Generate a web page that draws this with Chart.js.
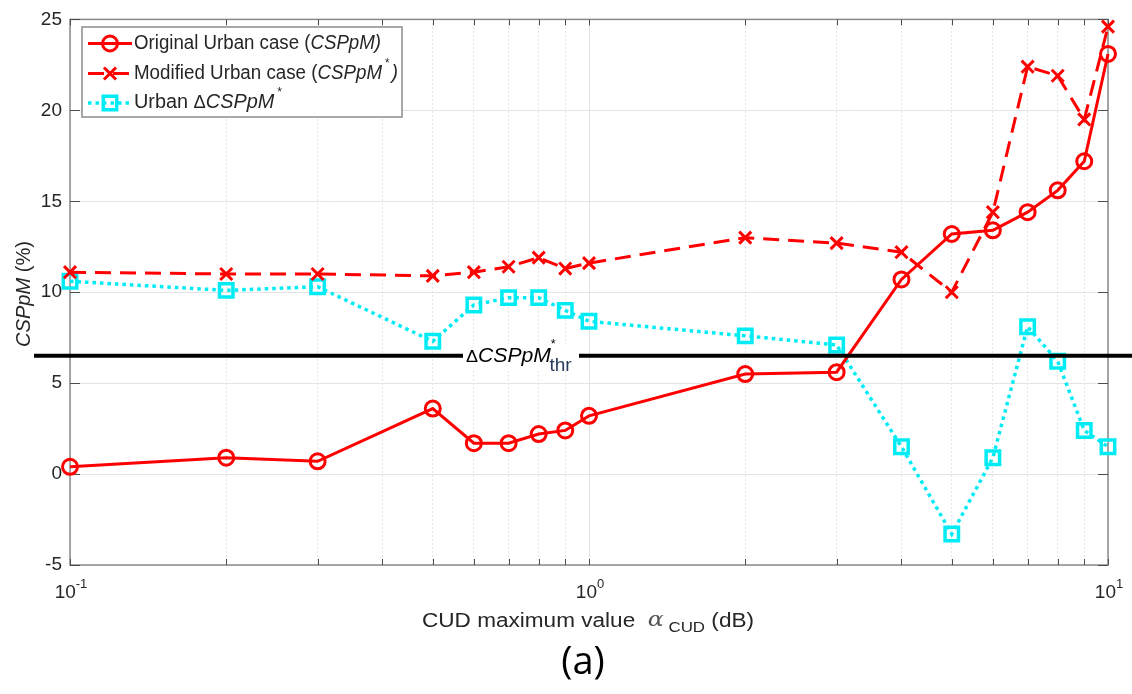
<!DOCTYPE html>
<html><head><meta charset="utf-8">
<script src="https://cdn.jsdelivr.net/npm/chart.js@4.4.1/dist/chart.umd.min.js"></script>
<style>html,body{margin:0;padding:0;background:#fff;}#wrap{width:1132px;height:694px;}</style>
</head><body><div id="wrap"><canvas id="c" width="1132" height="694"></canvas></div>
<script>
// ---- data ----
const alphaCUD = [0.1, 0.2, 0.3, 0.5, 0.6, 0.7, 0.8, 0.9, 1, 2, 3, 4, 5, 6, 7, 8, 9, 10];
const originalUrban = [0.4, 0.9, 0.7, 3.6, 1.7, 1.7, 2.2, 2.4, 3.2, 5.5, 5.6, 10.7, 13.2, 13.4, 14.4, 15.6, 17.2, 23.1];
const modifiedUrban = [11.1, 11.0, 11.0, 10.9, 11.1, 11.4, 11.9, 11.3, 11.6, 13.0, 12.7, 12.2, 10.0, 14.4, 22.4, 21.9, 19.5, 24.6];
const deltaUrban = [10.6, 10.1, 10.3, 7.3, 9.3, 9.7, 9.7, 9.0, 8.4, 7.6, 7.1, 1.5, -3.3, 0.9, 8.1, 6.2, 2.4, 1.5];
const thresholdValue = 6.5;
const xTickValues = [0.1,0.2,0.3,0.4,0.5,0.6,0.7,0.8,0.9,1,2,3,4,5,6,7,8,9,10];
const xMajorLabels = [{v:0.1, base:'10', exp:'-1'}, {v:1, base:'10', exp:'0'}, {v:10, base:'10', exp:'1'}];
const yTickValues = [-5, 0, 5, 10, 15, 20, 25];

const RED = '#ff0000', CYAN = '#00ecf4';
const SANS = '"Liberation Sans", Arial, sans-serif';

function pts(ys){ return alphaCUD.map((x,i)=>({x:x, y:ys[i]})); }
function isMajor(v){ return Math.abs(Math.log10(v) - Math.round(Math.log10(v))) < 1e-9; }

// draw a sequence of text runs with mixed fonts
function drawRuns(ctx, runs, x, y, align, fitWidth){
  let total = 0;
  runs.forEach(r=>{ ctx.font = r.font; r.w = ctx.measureText(r.t).width; total += r.w; });
  const sx = fitWidth ? fitWidth/total : 1;
  let x0 = align==='center' ? x - total*sx/2 : (align==='right' ? x - total*sx : x);
  ctx.save();
  ctx.translate(x0, y); ctx.scale(sx, 1);
  ctx.textBaseline = 'middle'; ctx.textAlign = 'left';
  let cx = 0;
  runs.forEach(r=>{ ctx.font = r.font; ctx.fillStyle = r.color || '#262626'; ctx.fillText(r.t, cx + (r.dx||0), r.dy||0); cx += r.w; });
  ctx.restore();
  return total*sx;
}

const decorations = {
  id:'decorations',
  beforeDatasetsDraw(chart){
    const ctx = chart.ctx, a = chart.chartArea, xs = chart.scales.x, ys = chart.scales.y;
    ctx.save();
    // axes box
    ctx.strokeStyle = '#8a8a8a'; ctx.lineWidth = 1.5; ctx.setLineDash([]);
    ctx.strokeRect(a.left, a.top, a.right-a.left, a.bottom-a.top);
    // inward ticks
    ctx.strokeStyle = '#4d4d4d'; ctx.lineWidth = 1;
    ctx.beginPath();
    xTickValues.forEach(v=>{
      const px = Math.round(xs.getPixelForValue(v))+0.5;
      ctx.moveTo(px, a.bottom); ctx.lineTo(px, a.bottom-6);
      ctx.moveTo(px, a.top); ctx.lineTo(px, a.top+6);
    });
    yTickValues.forEach(v=>{
      const py = Math.round(ys.getPixelForValue(v))+0.5;
      ctx.moveTo(a.left, py); ctx.lineTo(a.left+10, py);
      ctx.moveTo(a.right, py); ctx.lineTo(a.right-10, py);
    });
    ctx.stroke();
    // x tick labels with superscript exponents
    xMajorLabels.forEach(l=>{
      const px = xs.getPixelForValue(l.v);
      ctx.font = '19px '+SANS; const wb = ctx.measureText(l.base).width;
      ctx.font = '13px '+SANS; const we = ctx.measureText(l.exp).width;
      const x0 = px - (wb+we)/2 + 1;
      ctx.fillStyle = '#262626'; ctx.textBaseline='alphabetic'; ctx.textAlign='left';
      ctx.font = '19px '+SANS; ctx.fillText(l.base, x0, 598);
      ctx.font = '13px '+SANS; ctx.fillText(l.exp, x0+wb, 588);
    });
    ctx.restore();
  },
  afterDatasetsDraw(chart){
    const ctx = chart.ctx, a = chart.chartArea, ys = chart.scales.y, xs = chart.scales.x;
    ctx.save();
    // threshold line
    const ty = ys.getPixelForValue(thresholdValue);
    ctx.strokeStyle = '#000'; ctx.lineWidth = 4; ctx.setLineDash([]);
    ctx.beginPath(); ctx.moveTo(34, ty); ctx.lineTo(chart.width, ty); ctx.stroke();
    // threshold label
    ctx.fillStyle = '#fff'; ctx.fillRect(463, ty-12, 116, 26);
    drawRuns(ctx, [
      {t:'\u0394', font:'17px '+SANS, color:'#000'},
      {t:'CSPpM', font:'italic 20px '+SANS, color:'#000'},
      {t:'*', font:'12px '+SANS, color:'#000', dy:-12},
      {t:'thr', font:'18px '+SANS, color:'#2a3a5c', dy:9, dx:-6}
    ], 466, ty+1, 'left', 112);

    // legend box
    ctx.fillStyle = '#fff'; ctx.fillRect(82, 27, 320, 90);
    ctx.strokeStyle = '#8c8c8c'; ctx.lineWidth = 1.5; ctx.strokeRect(82, 27, 320, 90);
    const ds = chart.data.datasets;
    const rows = [43.5, 73.5, 103];
    const texts = [
      [{t:'Original Urban case (', font:'19.5px '+SANS},{t:'CSPpM)', font:'italic 19.5px '+SANS}],
      [{t:'Modified Urban case (', font:'19.5px '+SANS},{t:'CSPpM', font:'italic 19.5px '+SANS},{t:'*', font:'12px '+SANS, dy:-10, dx:3},{t:' )', font:'italic 19.5px '+SANS}],
      [{t:'Urban ', font:'19.5px '+SANS},{t:'\u0394', font:'18px '+SANS},{t:'CSPpM', font:'italic 19.5px '+SANS},{t:'*', font:'12px '+SANS, dy:-10, dx:3}]
    ];
    const widths = [247, 264, 145];
    ds.forEach((d,i)=>{
      const y = rows[i];
      ctx.strokeStyle = d.borderColor; ctx.lineWidth = d.borderWidth;
      ctx.setLineDash(d.borderDash || []);
      ctx.beginPath(); ctx.moveTo(88, y); ctx.lineTo(132, y); ctx.stroke();
      ctx.setLineDash([]);
      ctx.fillStyle = 'rgba(0,0,0,0)'; ctx.strokeStyle = d.pointBorderColor; ctx.lineWidth = d.pointBorderWidth;
      Chart.helpers.drawPoint(ctx, {pointStyle:d.pointStyle, radius:d.pointRadius, borderWidth:d.pointBorderWidth, rotation:0}, 110, y);
      drawRuns(ctx, texts[i], 134, y, 'left', widths[i]);
    });

    // axis titles
    ctx.save();
    ctx.translate(24, 294); ctx.rotate(-Math.PI/2);
    drawRuns(ctx, [{t:'CSPpM', font:'italic 20px '+SANS},{t:' (%)', font:'20px '+SANS}], 0, 0, 'center', 106);
    ctx.restore();
    drawRuns(ctx, [
      {t:'CUD maximum value  ', font:'20px '+SANS},
      {t:'\u03B1', font:'italic 21px "DejaVu Serif", "Liberation Serif", serif', color:'#555'},
      {t:' CUD', font:'15px '+SANS, dy:7},
      {t:' (dB)', font:'20px '+SANS}
    ], 588, 621, 'center', 332);
    // panel label
    ctx.fillStyle = '#000'; ctx.font = '38px "Open Sans", sans-serif'; ctx.textAlign='center'; ctx.textBaseline='middle';
    ctx.fillText('(a)', 583, 663);
    ctx.restore();
  }
};

new Chart(document.getElementById('c'), {
  type: 'line',
  data: { datasets: [
    { label:'Original Urban case (CSPpM)', data: pts(originalUrban), borderColor: RED, borderWidth: 3,
      pointStyle:'circle', pointRadius: 7.5, pointBorderWidth: 3, pointBorderColor: RED, pointBackgroundColor:'rgba(0,0,0,0)', clip:false, tension:0 },
    { label:'Modified Urban case (CSPpM*)', data: pts(modifiedUrban), borderColor: RED, borderWidth: 3, borderDash:[16,9],
      pointStyle:'crossRot', pointRadius: 8.5, pointBorderWidth: 3, pointBorderColor: RED, pointBackgroundColor:'rgba(0,0,0,0)', clip:false, tension:0 },
    { label:'Urban \u0394CSPpM*', data: pts(deltaUrban), borderColor: CYAN, borderWidth: 3.5, borderDash:[3.5,4],
      pointStyle:'rect', pointRadius: 9.5, pointBorderWidth: 3.5, pointBorderColor: CYAN, pointBackgroundColor:'rgba(0,0,0,0)', clip:false, tension:0 }
  ]},
  options: {
    responsive:false, animation:false, devicePixelRatio:1,
    layout:{ padding:{ left:0, right:24, top:14, bottom:0 } },
    plugins:{ legend:{display:false}, tooltip:{enabled:false} },
    scales:{
      x:{ type:'logarithmic', min:0.1, max:10,
        afterBuildTicks: s=>{ s.ticks = xTickValues.map(v=>({value:v})); },
        afterFit: s=>{ s.height = 129; },
        ticks:{ display:false, autoSkip:false },
        grid:{ drawTicks:false, lineWidth:1,
          color: c=> isMajor(c.tick.value) ? '#e3e3e3' : '#cccccc' },
        border:{ display:false, dash: c=> (c.tick && !isMajor(c.tick.value)) ? [1,3] : [] }
      },
      y:{ min:-5, max:25,
        afterBuildTicks: s=>{ s.ticks = yTickValues.map(v=>({value:v})); },
        afterFit: s=>{ s.width = 70; },
        ticks:{ padding:8, color:'#262626', font:{ family:SANS, size:19 } },
        grid:{ drawTicks:false, color:'#e3e3e3', lineWidth:1 },
        border:{ display:false }
      }
    }
  },
  plugins:[decorations]
});
</script></body></html>
